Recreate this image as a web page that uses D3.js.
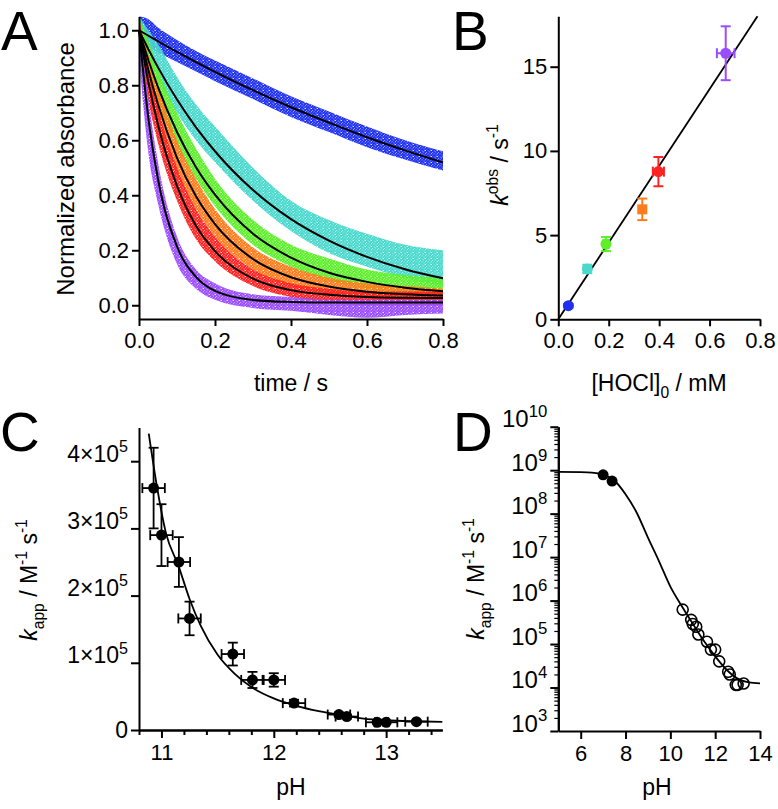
<!DOCTYPE html>
<html><head><meta charset="utf-8">
<script src="https://cdn.jsdelivr.net/npm/d3@7"></script>
<style>body{margin:0;background:#fff} text{font-family:"Liberation Sans",Arial,Helvetica,sans-serif}</style>
</head><body><svg id="c" width="778" height="809"></svg>
<script>
// ---------- Panel A data ----------
const timesA = [0, 0.025, 0.05, 0.1, 0.15, 0.2, 0.3, 0.4, 0.5, 0.6, 0.7, 0.8];
const colorsA = ["#1f30f0", "#48d8cc", "#5cef2a", "#ff7c1c", "#ff2222", "#9a4cff"];
const fitBlue   = [1, 0.980, 0.960, 0.921, 0.884, 0.849, 0.782, 0.720, 0.664, 0.611, 0.563, 0.519];
const fitCyan   = [1, 0.930, 0.865, 0.748, 0.647, 0.560, 0.419, 0.313, 0.235, 0.176, 0.131, 0.098];
const fitGreen  = [1, 0.890, 0.793, 0.630, 0.502, 0.402, 0.260, 0.173, 0.118, 0.085, 0.064, 0.051];
const fitOrange = [1, 0.854, 0.731, 0.536, 0.396, 0.295, 0.168, 0.102, 0.068, 0.049, 0.040, 0.035];
const fitRed    = [1, 0.809, 0.656, 0.434, 0.289, 0.197, 0.097, 0.055, 0.038, 0.030, 0.027, 0.026];
const fitPurple = [1, 0.677, 0.459, 0.214, 0.103, 0.052, 0.019, 0.012, 0.010, 0.010, 0.010, 0.010];
// observed data clouds: lower / upper envelope of the scattered points
const blueLo   = [0.96, 0.94, 0.92, 0.885, 0.85, 0.815, 0.75, 0.685, 0.63, 0.575, 0.53, 0.49];
const blueHi   = [1.05, 1.04, 1.01, 0.965, 0.925, 0.89, 0.825, 0.76, 0.705, 0.65, 0.60, 0.56];
const cyanLo   = [0.96, 0.88, 0.82, 0.70, 0.60, 0.52, 0.38, 0.27, 0.19, 0.14, 0.10, 0.07];
const cyanHi   = [1.05, 1.00, 0.95, 0.83, 0.73, 0.65, 0.50, 0.38, 0.31, 0.26, 0.22, 0.20];
const greenLo  = [0.95, 0.84, 0.74, 0.58, 0.46, 0.36, 0.22, 0.14, 0.09, 0.06, 0.04, 0.03];
const greenHi  = [1.05, 0.96, 0.86, 0.70, 0.57, 0.46, 0.31, 0.22, 0.17, 0.13, 0.11, 0.10];
const orangeLo = [0.95, 0.79, 0.67, 0.48, 0.35, 0.25, 0.13, 0.07, 0.04, 0.03, 0.02, 0.01];
const orangeHi = [1.04, 0.91, 0.80, 0.60, 0.46, 0.35, 0.21, 0.14, 0.10, 0.08, 0.07, 0.06];
const redLo    = [0.94, 0.74, 0.59, 0.38, 0.24, 0.16, 0.07, 0.03, 0.01, 0.0, 0.0, 0.0];
const redHi    = [1.04, 0.87, 0.72, 0.50, 0.35, 0.25, 0.13, 0.08, 0.06, 0.05, 0.05, 0.05];
const purpleLo = [0.90, 0.55, 0.37, 0.15, 0.06, 0.02, -0.01, -0.02, -0.035, -0.045, -0.035, -0.03];
const purpleHi = [1.05, 0.75, 0.52, 0.25, 0.13, 0.08, 0.04, 0.03, 0.02, 0.02, 0.02, 0.02];
const ticksAx = [0, 0.2, 0.4, 0.6, 0.8];
const ticksAy = [0, 0.2, 0.4, 0.6, 0.8, 1.0];

// ---------- Panel B data ----------
const hoclB   = [0.04, 0.115, 0.189, 0.333, 0.397, 0.664];
const kobsB   = [0.81, 2.99, 4.47, 6.53, 8.77, 15.8];
const kobsErr = [0.1, 0.25, 0.42, 0.64, 0.87, 1.6];
const hoclErr = [0, 0.01, 0.01, 0, 0.022, 0.035];
const shapesB = ["circle", "circle", "circle", "square", "circle", "circle"];
const colorsB = ["#1f30f0", "#48d8cc", "#5cef2a", "#ff7c1c", "#ff2222", "#9a4cff"];
const fitBx = [0, 0.79];
const fitBy = [0, 18];
const ticksBx = [0, 0.2, 0.4, 0.6, 0.8];
const ticksBy = [0, 5, 10, 15];

// ---------- Panel C data ----------
const phC    = [10.93, 11.0, 11.155, 11.25, 11.635, 11.81, 12.0, 12.18, 12.58, 12.65, 12.92, 13.0, 13.27];
const kappC  = [360000, 290000, 250000, 166000, 113000, 74500, 74500, 40000, 23000, 20000, 11500, 11500, 12400];
const kErrC  = [60000, 46000, 37000, 25000, 17000, 12000, 10000, 5000, 3000, 3000, 2000, 2000, 2000];
const phErrC = [0.1, 0.1, 0.1, 0.1, 0.1, 0.1, 0.1, 0.1, 0.1, 0.1, 0.1, 0.1, 0.1];
const fitCph = [10.887, 10.96, 11.04, 11.15, 11.25, 11.35, 11.5, 11.65, 11.8, 12.0, 12.2, 12.4, 12.6, 12.8, 13.0, 13.25, 13.5];
const fitCk  = [441000, 362000, 293000, 245000, 195000, 155000, 112000, 84000, 64000, 47000, 36000, 28000, 22000, 17000, 14500, 13000, 12200];
const ticksCx = [11, 12, 13];
const ticksCy = [0, 100000, 200000, 300000, 400000];

// ---------- Panel D data ----------
const phDfilled = [7.0, 7.4];
const kDfilled  = [7.8e8, 5.6e8];
const phDopen   = [10.55, 10.93, 11.0, 11.155, 11.25, 11.635, 11.81, 12.0, 12.18, 12.58, 12.65, 12.92, 13.0, 13.27];
const kDopen    = [620000, 360000, 290000, 250000, 166000, 113000, 74500, 74500, 40000, 23000, 20000, 11500, 11500, 12400];
const fitDph = [5, 6, 6.5, 7, 7.5, 8, 8.5, 9, 9.5, 10, 10.5, 11, 11.5, 12, 12.5, 13, 13.5, 14];
const fitDk  = [9.1e8, 9.0e8, 8.8e8, 7.9e8, 5.8e8, 2.8e8, 1.05e8, 2.8e7, 7.9e6, 2.1e6, 7.6e5, 2.95e5, 1.17e5, 5.2e4, 2.6e4, 1.6e4, 1.32e4, 1.25e4];
const ticksDx = [6, 8, 10, 12, 14];
const ticksDy = [1e3, 1e4, 1e5, 1e6, 1e7, 1e8, 1e9, 1e10];

// ---------- drawing ----------
const svg = d3.select("#c");
const TICKFS = 22, TITLEFS = 23;

function styleAxis(g, fs) {
  g.select(".domain").attr("stroke", "#000").attr("stroke-width", 2);
  g.selectAll(".tick line").attr("stroke", "#000").attr("stroke-width", 2);
  g.selectAll(".tick text").attr("font-size", fs || TICKFS).attr("fill", "#000")
    .attr("font-family", '"Liberation Sans",Arial,sans-serif');
}
function rich(t, parts, fs, supScale) {
  let cur = 0;
  const sc = supScale || 0.68;
  parts.forEach(p => {
    const target = p.sup ? -fs * 0.42 : (p.sub ? fs * 0.32 : 0);
    const ts = t.append("tspan").text(p.t).attr("dy", target - cur);
    cur = target;
    if (p.sup || p.sub) ts.attr("font-size", fs * sc);
    if (p.it) ts.attr("font-style", "italic");
  });
}
function letter(txt, x, y) {
  svg.append("text").attr("x", x).attr("y", y).attr("font-size", 55).text(txt);
}

// ===== Panel A =====
{
  const x = d3.scaleLinear().domain([0, 0.8]).range([139, 443]);
  const y = d3.scaleLinear().domain([-0.05, 1.05]).range([319, 16.5]);
  const defs = svg.append("defs");
  const dotPos = [[0.8,1.0],[3.4,0.5],[5.2,2.0],[2.1,2.6],[4.0,3.6],[0.6,4.0],[2.7,5.2],[5.4,5.3],[1.4,5.9]];
  colorsA.forEach((c, i) => {
    const p = defs.append("pattern").attr("id", "dots" + i).attr("patternUnits", "userSpaceOnUse")
      .attr("width", 6).attr("height", 6);
    dotPos.forEach(d => p.append("circle").attr("cx", d[0]).attr("cy", d[1]).attr("r", 1.25).attr("fill", c));
  });
  const los = [blueLo, cyanLo, greenLo, orangeLo, redLo, purpleLo];
  const his = [blueHi, cyanHi, greenHi, orangeHi, redHi, purpleHi];
  const fits = [fitBlue, fitCyan, fitGreen, fitOrange, fitRed, fitPurple];
  const area = d3.area().x(d => x(d.t)).y0(d => y(d.lo)).y1(d => y(d.hi)).curve(d3.curveMonotoneX);
  los.forEach((lo, i) => {
    const data = timesA.map((t, j) => ({t, lo: lo[j], hi: his[i][j]}));
    svg.append("path").datum(data).attr("d", area).attr("fill", "url(#dots" + i + ")");
  });
  const line = d3.line().x(d => x(d.t)).y(d => y(d.v)).curve(d3.curveMonotoneX);
  fits.forEach(f => {
    svg.append("path").datum(timesA.map((t, j) => ({t, v: f[j]}))).attr("d", line)
      .attr("fill", "none").attr("stroke", "#000").attr("stroke-width", 2);
  });
  const gx = svg.append("g").attr("transform", "translate(0,319)")
    .call(d3.axisBottom(x).tickValues(ticksAx).tickFormat(d3.format(".1f")).tickSize(7).tickPadding(6).tickSizeOuter(0));
  styleAxis(gx);
  const gy = svg.append("g").attr("transform", "translate(139,0)")
    .call(d3.axisLeft(y).tickValues(ticksAy).tickFormat(d3.format(".1f")).tickSize(7).tickPadding(3).tickSizeOuter(0));
  styleAxis(gy);
  svg.append("text").attr("x", 291).attr("y", 391).attr("text-anchor", "middle").attr("font-size", TITLEFS).text("time / s");
  svg.append("text").attr("transform", "translate(74,169) rotate(-90)").attr("text-anchor", "middle")
    .attr("font-size", 24).text("Normalized absorbance");
  letter("A", 1, 50);
}

// ===== Panel B =====
{
  const x = d3.scaleLinear().domain([0, 0.8]).range([558.3, 760]);
  const y = d3.scaleLinear().domain([0, 18]).range([319.3, 16.2]);
  svg.append("path").datum(fitBx.map((v, i) => [v, fitBy[i]]))
    .attr("d", d3.line().x(d => x(d[0])).y(d => y(d[1])))
    .attr("stroke", "#000").attr("stroke-width", 1.8).attr("fill", "none");
  hoclB.forEach((h, i) => {
    const c = colorsB[i], g = svg.append("g").attr("stroke", c).attr("stroke-width", 2).attr("fill", c);
    const cx = x(h), cy = y(kobsB[i]);
    const y1 = y(kobsB[i] + kobsErr[i]), y2 = y(kobsB[i] - kobsErr[i]);
    g.append("line").attr("x1", cx).attr("x2", cx).attr("y1", y1).attr("y2", y2);
    g.append("line").attr("x1", cx - 5).attr("x2", cx + 5).attr("y1", y1).attr("y2", y1);
    g.append("line").attr("x1", cx - 5).attr("x2", cx + 5).attr("y1", y2).attr("y2", y2);
    if (hoclErr[i] > 0) {
      const x1 = x(h - hoclErr[i]), x2 = x(h + hoclErr[i]);
      g.append("line").attr("x1", x1).attr("x2", x2).attr("y1", cy).attr("y2", cy);
      g.append("line").attr("x1", x1).attr("x2", x1).attr("y1", cy - 5).attr("y2", cy + 5);
      g.append("line").attr("x1", x2).attr("x2", x2).attr("y1", cy - 5).attr("y2", cy + 5);
    }
    if (shapesB[i] === "square") g.append("rect").attr("x", cx - 5).attr("y", cy - 5).attr("width", 10).attr("height", 10).attr("stroke", "none");
    else g.append("circle").attr("cx", cx).attr("cy", cy).attr("r", 5.5).attr("stroke", "none");
  });
  const gx = svg.append("g").attr("transform", "translate(0,319.3)")
    .call(d3.axisBottom(x).tickValues(ticksBx).tickFormat(d3.format(".1f")).tickSize(7).tickPadding(6).tickSizeOuter(0));
  styleAxis(gx);
  const gy = svg.append("g").attr("transform", "translate(558.3,0)")
    .call(d3.axisLeft(y).tickValues(ticksBy).tickFormat(d3.format("d")).tickSize(8).tickPadding(3).tickSizeOuter(0));
  styleAxis(gy);
  const tx = svg.append("text").attr("x", 659).attr("y", 391).attr("text-anchor", "middle").attr("font-size", TITLEFS);
  rich(tx, [{t: "[HOCl]"}, {t: "0", sub: true}, {t: " / mM"}], TITLEFS);
  const ty = svg.append("text").attr("transform", "translate(508,165) rotate(-90)").attr("text-anchor", "middle").attr("font-size", TITLEFS);
  rich(ty, [{t: "k", it: true}, {t: "obs", sup: true}, {t: " / s"}, {t: "-1", sup: true}], TITLEFS);
  letter("B", 452, 50);
}

// ===== Panel C =====
{
  const x = d3.scaleLinear().domain([10.8, 13.5]).range([139, 442.3]);
  const y = d3.scaleLinear().domain([0, 450000]).range([730, 427.6]);
  svg.append("path").datum(fitCph.map((p, i) => [p, fitCk[i]]))
    .attr("d", d3.line().x(d => x(d[0])).y(d => y(d[1])).curve(d3.curveMonotoneX))
    .attr("fill", "none").attr("stroke", "#000").attr("stroke-width", 1.8);
  phC.forEach((p, i) => {
    const g = svg.append("g").attr("stroke", "#000").attr("stroke-width", 1.8);
    const cx = x(p), cy = y(kappC[i]);
    const y1 = y(kappC[i] + kErrC[i]), y2 = y(kappC[i] - kErrC[i]);
    const x1 = x(p - phErrC[i]), x2 = x(p + phErrC[i]);
    g.append("line").attr("x1", cx).attr("x2", cx).attr("y1", y1).attr("y2", y2);
    g.append("line").attr("x1", cx - 5).attr("x2", cx + 5).attr("y1", y1).attr("y2", y1);
    g.append("line").attr("x1", cx - 5).attr("x2", cx + 5).attr("y1", y2).attr("y2", y2);
    g.append("line").attr("x1", x1).attr("x2", x2).attr("y1", cy).attr("y2", cy);
    g.append("line").attr("x1", x1).attr("x2", x1).attr("y1", cy - 5).attr("y2", cy + 5);
    g.append("line").attr("x1", x2).attr("x2", x2).attr("y1", cy - 5).attr("y2", cy + 5);
    svg.append("circle").attr("cx", cx).attr("cy", cy).attr("r", 5.5).attr("fill", "#000");
  });
  const minor = d3.range(10.8, 13.51, 0.2).map(v => +v.toFixed(1)).filter(v => !ticksCx.includes(v));
  const gm = svg.append("g").attr("transform", "translate(0,730)")
    .call(d3.axisBottom(x).tickValues(minor).tickFormat("").tickSize(5).tickSizeOuter(0));
  styleAxis(gm);
  const gx = svg.append("g").attr("transform", "translate(0,730)")
    .call(d3.axisBottom(x).tickValues(ticksCx).tickFormat(d3.format("d")).tickSize(8).tickPadding(6).tickSizeOuter(0));
  styleAxis(gx);
  const gy = svg.append("g").attr("transform", "translate(139,0)")
    .call(d3.axisLeft(y).tickValues(ticksCy).tickFormat("").tickSize(8).tickPadding(3).tickSizeOuter(0));
  styleAxis(gy, 23);
  gy.selectAll(".tick text").each(function(d) {
    const t = d3.select(this);
    if (d === 0) { t.text("0"); return; }
    rich(t, [{t: (d / 1e5) + "×10"}, {t: "5", sup: true}], 23, 0.7);
  });
  svg.append("text").attr("x", 291).attr("y", 795).attr("text-anchor", "middle").attr("font-size", TITLEFS).text("pH");
  const ty = svg.append("text").attr("transform", "translate(37,580) rotate(-90)").attr("text-anchor", "middle").attr("font-size", TITLEFS);
  rich(ty, [{t: "k", it: true}, {t: "app", sub: true}, {t: " / M"}, {t: "-1", sup: true}, {t: " s"}, {t: "-1", sup: true}], TITLEFS);
  letter("C", 0, 451);
}

// ===== Panel D =====
{
  const x = d3.scaleLinear().domain([5, 14]).range([558.3, 760]);
  const y = d3.scaleLog().domain([1e3, 1e10]).range([731, 426.7]);
  svg.append("path").datum(fitDph.map((p, i) => [p, fitDk[i]]))
    .attr("d", d3.line().x(d => x(d[0])).y(d => y(d[1])).curve(d3.curveMonotoneX))
    .attr("fill", "none").attr("stroke", "#000").attr("stroke-width", 1.8);
  phDopen.forEach((p, i) => {
    svg.append("circle").attr("cx", x(p)).attr("cy", y(kDopen[i])).attr("r", 5.5)
      .attr("fill", "none").attr("stroke", "#000").attr("stroke-width", 1.6);
  });
  phDfilled.forEach((p, i) => {
    svg.append("circle").attr("cx", x(p)).attr("cy", y(kDfilled[i])).attr("r", 5.5).attr("fill", "#000");
  });
  const minor = y.ticks().filter(v => !ticksDy.some(t => Math.abs(t - v) / t < 1e-6));
  const gm = svg.append("g").attr("transform", "translate(558.3,0)")
    .call(d3.axisLeft(y).tickValues(minor).tickFormat("").tickSize(4).tickSizeOuter(0));
  styleAxis(gm);
  gm.selectAll(".tick line").attr("stroke-width", 1.2);
  const gy = svg.append("g").attr("transform", "translate(558.3,0)")
    .call(d3.axisLeft(y).tickValues(ticksDy).tickFormat("").tickSize(8).tickPadding(3).tickSizeOuter(0));
  styleAxis(gy, 24);
  gy.selectAll(".tick text").each(function(d) {
    rich(d3.select(this), [{t: "10"}, {t: String(Math.round(Math.log10(d))), sup: true}], 24, 0.7);
  });
  const gx = svg.append("g").attr("transform", "translate(0,731)")
    .call(d3.axisBottom(x).tickValues(ticksDx).tickFormat(d3.format("d")).tickSize(8).tickPadding(6).tickSizeOuter(0));
  styleAxis(gx);
  svg.append("text").attr("x", 657).attr("y", 795).attr("text-anchor", "middle").attr("font-size", TITLEFS).text("pH");
  const ty = svg.append("text").attr("transform", "translate(484,579) rotate(-90)").attr("text-anchor", "middle").attr("font-size", TITLEFS);
  rich(ty, [{t: "k", it: true}, {t: "app", sub: true}, {t: " / M"}, {t: "-1", sup: true}, {t: " s"}, {t: "-1", sup: true}], TITLEFS);
  letter("D", 453, 451);
}
</script></body></html>
